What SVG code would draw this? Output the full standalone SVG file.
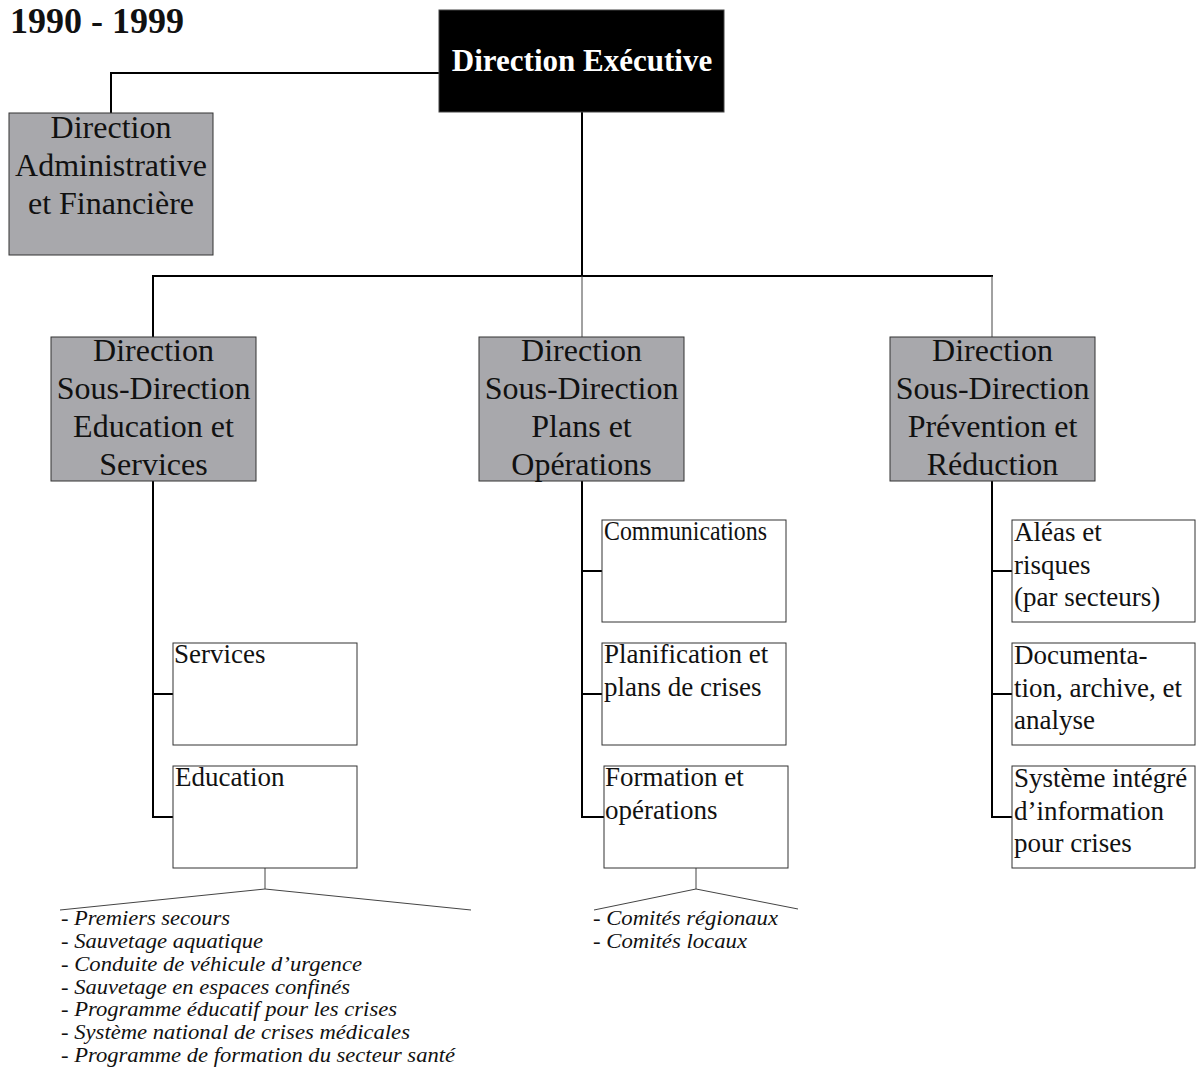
<svg xmlns="http://www.w3.org/2000/svg" width="1199" height="1068" viewBox="0 0 1199 1068">
<style>
text{font-family:"Liberation Serif","Times New Roman",serif;fill:#111}
.gray{fill:#a8a8ac;stroke:#333;stroke-width:1}
.white{fill:#fff;stroke:#333;stroke-width:1}
.sub{font-size:32px;text-anchor:middle}
.child{font-size:27px}
.list{font-size:20px;font-style:italic}
.c{fill:none;stroke:#000;stroke-width:2}
.t{fill:none;stroke:#444;stroke-width:1}
</style>
<text x="10" y="33" font-size="36" font-weight="bold">1990 - 1999</text>
<g id="connectors">
<polyline class="c" points="439,73 111,73 111,113"/>
<line class="c" x1="582" y1="112" x2="582" y2="277"/>
<line class="c" x1="152" y1="276" x2="993" y2="276"/>
<line class="c" x1="153" y1="276" x2="153" y2="337"/>
<line class="t" x1="582" y1="276" x2="582" y2="337"/>
<line class="t" x1="992" y1="276" x2="992" y2="337"/>
<polyline class="c" points="153,481 153,817 173,817"/>
<line class="c" x1="153" y1="694" x2="173" y2="694"/>
<polyline class="c" points="582,481 582,817 604,817"/>
<line class="c" x1="582" y1="571" x2="602" y2="571"/>
<line class="c" x1="582" y1="694" x2="602" y2="694"/>
<polyline class="c" points="992,481 992,817 1012,817"/>
<line class="c" x1="992" y1="571" x2="1012" y2="571"/>
<line class="c" x1="992" y1="694" x2="1012" y2="694"/>
<polyline class="t" points="265,868 265,889"/>
<polyline class="t" points="60,910 265,889 471,910"/>
<polyline class="t" points="696,868 696,889"/>
<polyline class="t" points="594,910 696,889 798,909"/>
</g>
<g id="exec">
<rect x="439" y="10" width="285" height="102" fill="#000" stroke="#444"/>
<text x="582" y="71" font-size="31" font-weight="bold" text-anchor="middle" style="fill:#fff">Direction Exécutive</text>
</g>
<g id="daf">
<rect class="gray" x="9" y="113" width="204" height="142"/>
<text class="sub" x="111" y="138">Direction</text>
<text class="sub" x="111" y="176">Administrative</text>
<text class="sub" x="111" y="214">et Financière</text>
</g>
<g id="sd-education">
<rect class="gray" x="51" y="337" width="205" height="144"/>
<text class="sub" x="153.5" y="361">Direction</text>
<text class="sub" x="153.5" y="399">Sous-Direction</text>
<text class="sub" x="153.5" y="437">Education et</text>
<text class="sub" x="153.5" y="475">Services</text>
</g>
<g id="sd-plans">
<rect class="gray" x="479" y="337" width="205" height="144"/>
<text class="sub" x="581.5" y="361">Direction</text>
<text class="sub" x="581.5" y="399">Sous-Direction</text>
<text class="sub" x="581.5" y="437">Plans et</text>
<text class="sub" x="581.5" y="475">Opérations</text>
</g>
<g id="sd-prevention">
<rect class="gray" x="890" y="337" width="205" height="144"/>
<text class="sub" x="992.5" y="361">Direction</text>
<text class="sub" x="992.5" y="399">Sous-Direction</text>
<text class="sub" x="992.5" y="437">Prévention et</text>
<text class="sub" x="992.5" y="475">Réduction</text>
</g>
<g id="services">
<rect class="white" x="173" y="643" width="184" height="102"/>
<text class="child" x="174" y="663">Services</text>
</g>
<g id="education">
<rect class="white" x="173" y="766" width="184" height="102"/>
<text class="child" x="175" y="786">Education</text>
</g>
<g id="communications">
<rect class="white" x="602" y="520" width="184" height="102"/>
<text class="child" x="604" y="540" textLength="163" lengthAdjust="spacingAndGlyphs">Communications</text>
</g>
<g id="planification">
<rect class="white" x="602" y="643" width="184" height="102"/>
<text class="child" x="604" y="663">Planification et</text>
<text class="child" x="604" y="696">plans de crises</text>
</g>
<g id="formation">
<rect class="white" x="604" y="766" width="184" height="102"/>
<text class="child" x="605" y="786">Formation et</text>
<text class="child" x="605" y="819">opérations</text>
</g>
<g id="aleas">
<rect class="white" x="1012" y="520" width="183" height="102"/>
<text class="child" x="1014" y="541">Aléas et</text>
<text class="child" x="1014" y="574">risques</text>
<text class="child" x="1014" y="606">(par secteurs)</text>
</g>
<g id="documentation">
<rect class="white" x="1012" y="643" width="183" height="102"/>
<text class="child" x="1014" y="664">Documenta-</text>
<text class="child" x="1014" y="697">tion, archive, et</text>
<text class="child" x="1014" y="729">analyse</text>
</g>
<g id="systeme">
<rect class="white" x="1012" y="766" width="183" height="102"/>
<text class="child" x="1014" y="787">Système intégré</text>
<text class="child" x="1014" y="820">d’information</text>
<text class="child" x="1014" y="852">pour crises</text>
</g>
<g id="education-list">
<text class="list" x="61" y="925" textLength="169" lengthAdjust="spacingAndGlyphs">- Premiers secours</text>
<text class="list" x="61" y="948" textLength="202" lengthAdjust="spacingAndGlyphs">- Sauvetage aquatique</text>
<text class="list" x="61" y="971" textLength="301" lengthAdjust="spacingAndGlyphs">- Conduite de véhicule d’urgence</text>
<text class="list" x="61" y="994" textLength="289" lengthAdjust="spacingAndGlyphs">- Sauvetage en espaces confinés</text>
<text class="list" x="61" y="1016" textLength="336" lengthAdjust="spacingAndGlyphs">- Programme éducatif pour les crises</text>
<text class="list" x="61" y="1039" textLength="349" lengthAdjust="spacingAndGlyphs">- Système national de crises médicales</text>
<text class="list" x="61" y="1062" textLength="394" lengthAdjust="spacingAndGlyphs">- Programme de formation du secteur santé</text>
</g>
<g id="formation-list">
<text class="list" x="593" y="925" textLength="185" lengthAdjust="spacingAndGlyphs">- Comités régionaux</text>
<text class="list" x="593" y="948" textLength="154" lengthAdjust="spacingAndGlyphs">- Comités locaux</text>
</g>
</svg>
